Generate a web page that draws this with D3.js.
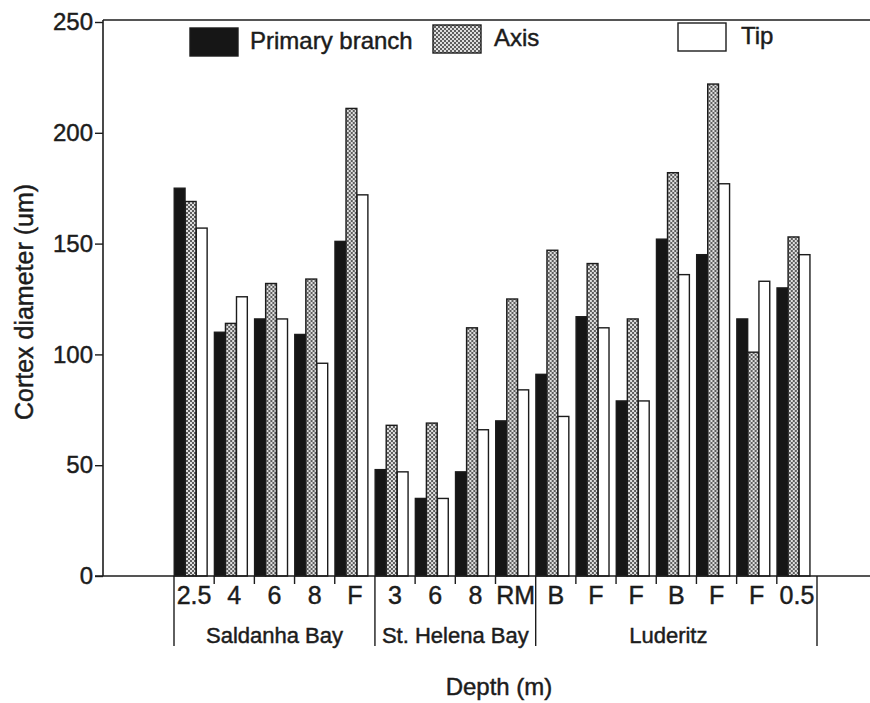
<!DOCTYPE html>
<html>
<head>
<meta charset="utf-8">
<script src="https://cdn.jsdelivr.net/npm/d3@7"></script>
<style>
  body { margin: 0; background: #fff; }
  svg { display: block; }
  text { font-family: "Liberation Sans", Arial, sans-serif; fill: #1c1c1c; stroke: #1c1c1c; stroke-width: 0.45px; }
</style>
</head>
<body>
<svg id="chart" width="870" height="703"></svg>
<script>
// depth labels along the x axis, one per bar cluster
const depths = ["2.5", "4", "6", "8", "F", "3", "6", "8", "RM", "B", "F", "F", "B", "F", "F", "0.5"];
const sites = ["Saldanha Bay", "St. Helena Bay", "Luderitz"];
const siteCounts = [5, 4, 7];

const series = ["Primary branch", "Axis", "Tip"];
const primaryBranch = [175, 110, 116, 109, 151, 48, 35, 47, 70, 91, 117, 79, 152, 145, 116, 130];
const axisVals = [169, 114, 132, 134, 211, 68, 69, 112, 125, 147, 141, 116, 182, 222, 101, 153];
const tipVals = [157, 126, 116, 96, 172, 47, 35, 66, 84, 72, 112, 79, 136, 177, 133, 145];
const yTicks = [0, 50, 100, 150, 200, 250];

const svg = d3.select("#chart");
const ink = "#1c1c1c";

// stipple texture for the "Axis" bars
const defs = svg.append("defs");
const pat = defs.append("pattern")
    .attr("id", "stipple")
    .attr("patternUnits", "userSpaceOnUse")
    .attr("width", 4).attr("height", 4);
pat.append("rect").attr("width", 4).attr("height", 4).attr("fill", "#dedede");
pat.append("rect").attr("width", 2).attr("height", 2).attr("fill", "#5e5e5e");
pat.append("rect").attr("x", 2).attr("y", 2).attr("width", 2).attr("height", 2).attr("fill", "#5e5e5e");

const fills = ["#161616", "url(#stipple)", "#ffffff"];

const x = d3.scaleBand()
    .domain(d3.range(depths.length))
    .range([174, 817])
    .padding(0);
const inner = d3.scaleBand()
    .domain(series)
    .range([0, x.bandwidth() * 0.83])
    .padding(0.02);
const y = d3.scaleLinear()
    .domain([0, 250])
    .range([576, 22]);

// frame: left axis line, top line, baseline
svg.append("line")
    .attr("x1", 103).attr("x2", 870)
    .attr("y1", 20).attr("y2", 20)
    .attr("stroke", ink).attr("stroke-width", 1.5);
svg.append("line")
    .attr("x1", 103).attr("x2", 103)
    .attr("y1", 20).attr("y2", y(0))
    .attr("stroke", ink).attr("stroke-width", 1.6);

// y axis
const yAxis = svg.append("g")
    .attr("transform", "translate(103,0)")
    .call(d3.axisLeft(y).tickValues(yTicks).tickSize(8).tickPadding(2));
yAxis.select(".domain").remove();
yAxis.selectAll(".tick line").attr("stroke", ink).attr("stroke-width", 1.4);
yAxis.selectAll(".tick text")
    .attr("font-size", 24)
    .attr("font-family", "'Liberation Sans', Arial, sans-serif")
    .attr("fill", ink);

// bars
const rows = depths.map((d, i) => ({
    i: i,
    values: [primaryBranch[i], axisVals[i], tipVals[i]]
}));
const cluster = svg.append("g").selectAll("g")
    .data(rows)
    .join("g")
    .attr("transform", d => `translate(${x(d.i)},0)`);
cluster.selectAll("rect")
    .data(d => d.values.map((v, k) => ({ key: series[k], k: k, v: v })))
    .join("rect")
    .attr("x", d => inner(d.key))
    .attr("y", d => y(d.v))
    .attr("width", inner.bandwidth())
    .attr("height", d => y(0) - y(d.v))
    .attr("fill", d => fills[d.k])
    .attr("stroke", ink)
    .attr("stroke-width", 1.4);

svg.append("line")
    .attr("x1", 95).attr("x2", 870)
    .attr("y1", y(0)).attr("y2", y(0))
    .attr("stroke", ink).attr("stroke-width", 1.6);

// x axis: depth labels centred in each band
const xAxis = svg.append("g")
    .attr("transform", `translate(0,${y(0)})`)
    .call(d3.axisBottom(x).tickSize(0).tickPadding(10).tickFormat(i => depths[i]));
xAxis.select(".domain").remove();
xAxis.selectAll(".tick text")
    .attr("font-size", 25)
    .attr("font-family", "'Liberation Sans', Arial, sans-serif")
    .attr("fill", ink);

// short ticks between bands, long separators between sites
const groupEdges = [0];
siteCounts.forEach(n => groupEdges.push(groupEdges[groupEdges.length - 1] + n));
const edgeX = i => i < depths.length ? x(i) : x(i - 1) + x.bandwidth();
svg.append("g").selectAll("line")
    .data(d3.range(depths.length + 1))
    .join("line")
    .attr("x1", edgeX)
    .attr("x2", edgeX)
    .attr("y1", y(0))
    .attr("y2", i => groupEdges.includes(i) ? y(0) + 70 : y(0) + 8)
    .attr("stroke", ink)
    .attr("stroke-width", 1.4);

svg.append("g").selectAll("text")
    .data(sites)
    .join("text")
    .attr("x", (d, k) => (edgeX(groupEdges[k]) + edgeX(groupEdges[k + 1])) / 2 - (k === 2 ? 8 : 0))
    .attr("y", y(0) + 67)
    .attr("text-anchor", "middle")
    .attr("font-size", 22)
    .text(d => d);

// axis titles
svg.append("text")
    .attr("x", 499).attr("y", 695)
    .attr("text-anchor", "middle")
    .attr("font-size", 24)
    .text("Depth (m)");
svg.append("text")
    .attr("transform", "translate(33,302) rotate(-90)")
    .attr("text-anchor", "middle")
    .attr("font-size", 25)
    .text("Cortex diameter (um)");

// legend
const legendX = [190, 433, 678];
const legendY = [28, 25, 23];
const legendLabelX = [250, 494, 741];
const legend = svg.append("g").selectAll("g")
    .data(series)
    .join("g");
legend.append("rect")
    .attr("x", (d, k) => legendX[k])
    .attr("y", (d, k) => legendY[k])
    .attr("width", 48).attr("height", 28)
    .attr("fill", (d, k) => fills[k])
    .attr("stroke", ink)
    .attr("stroke-width", 1.4);
legend.append("text")
    .attr("x", (d, k) => legendLabelX[k])
    .attr("y", (d, k) => legendY[k] + 21)
    .attr("font-size", 24)
    .text(d => d);
</script>
</body>
</html>
